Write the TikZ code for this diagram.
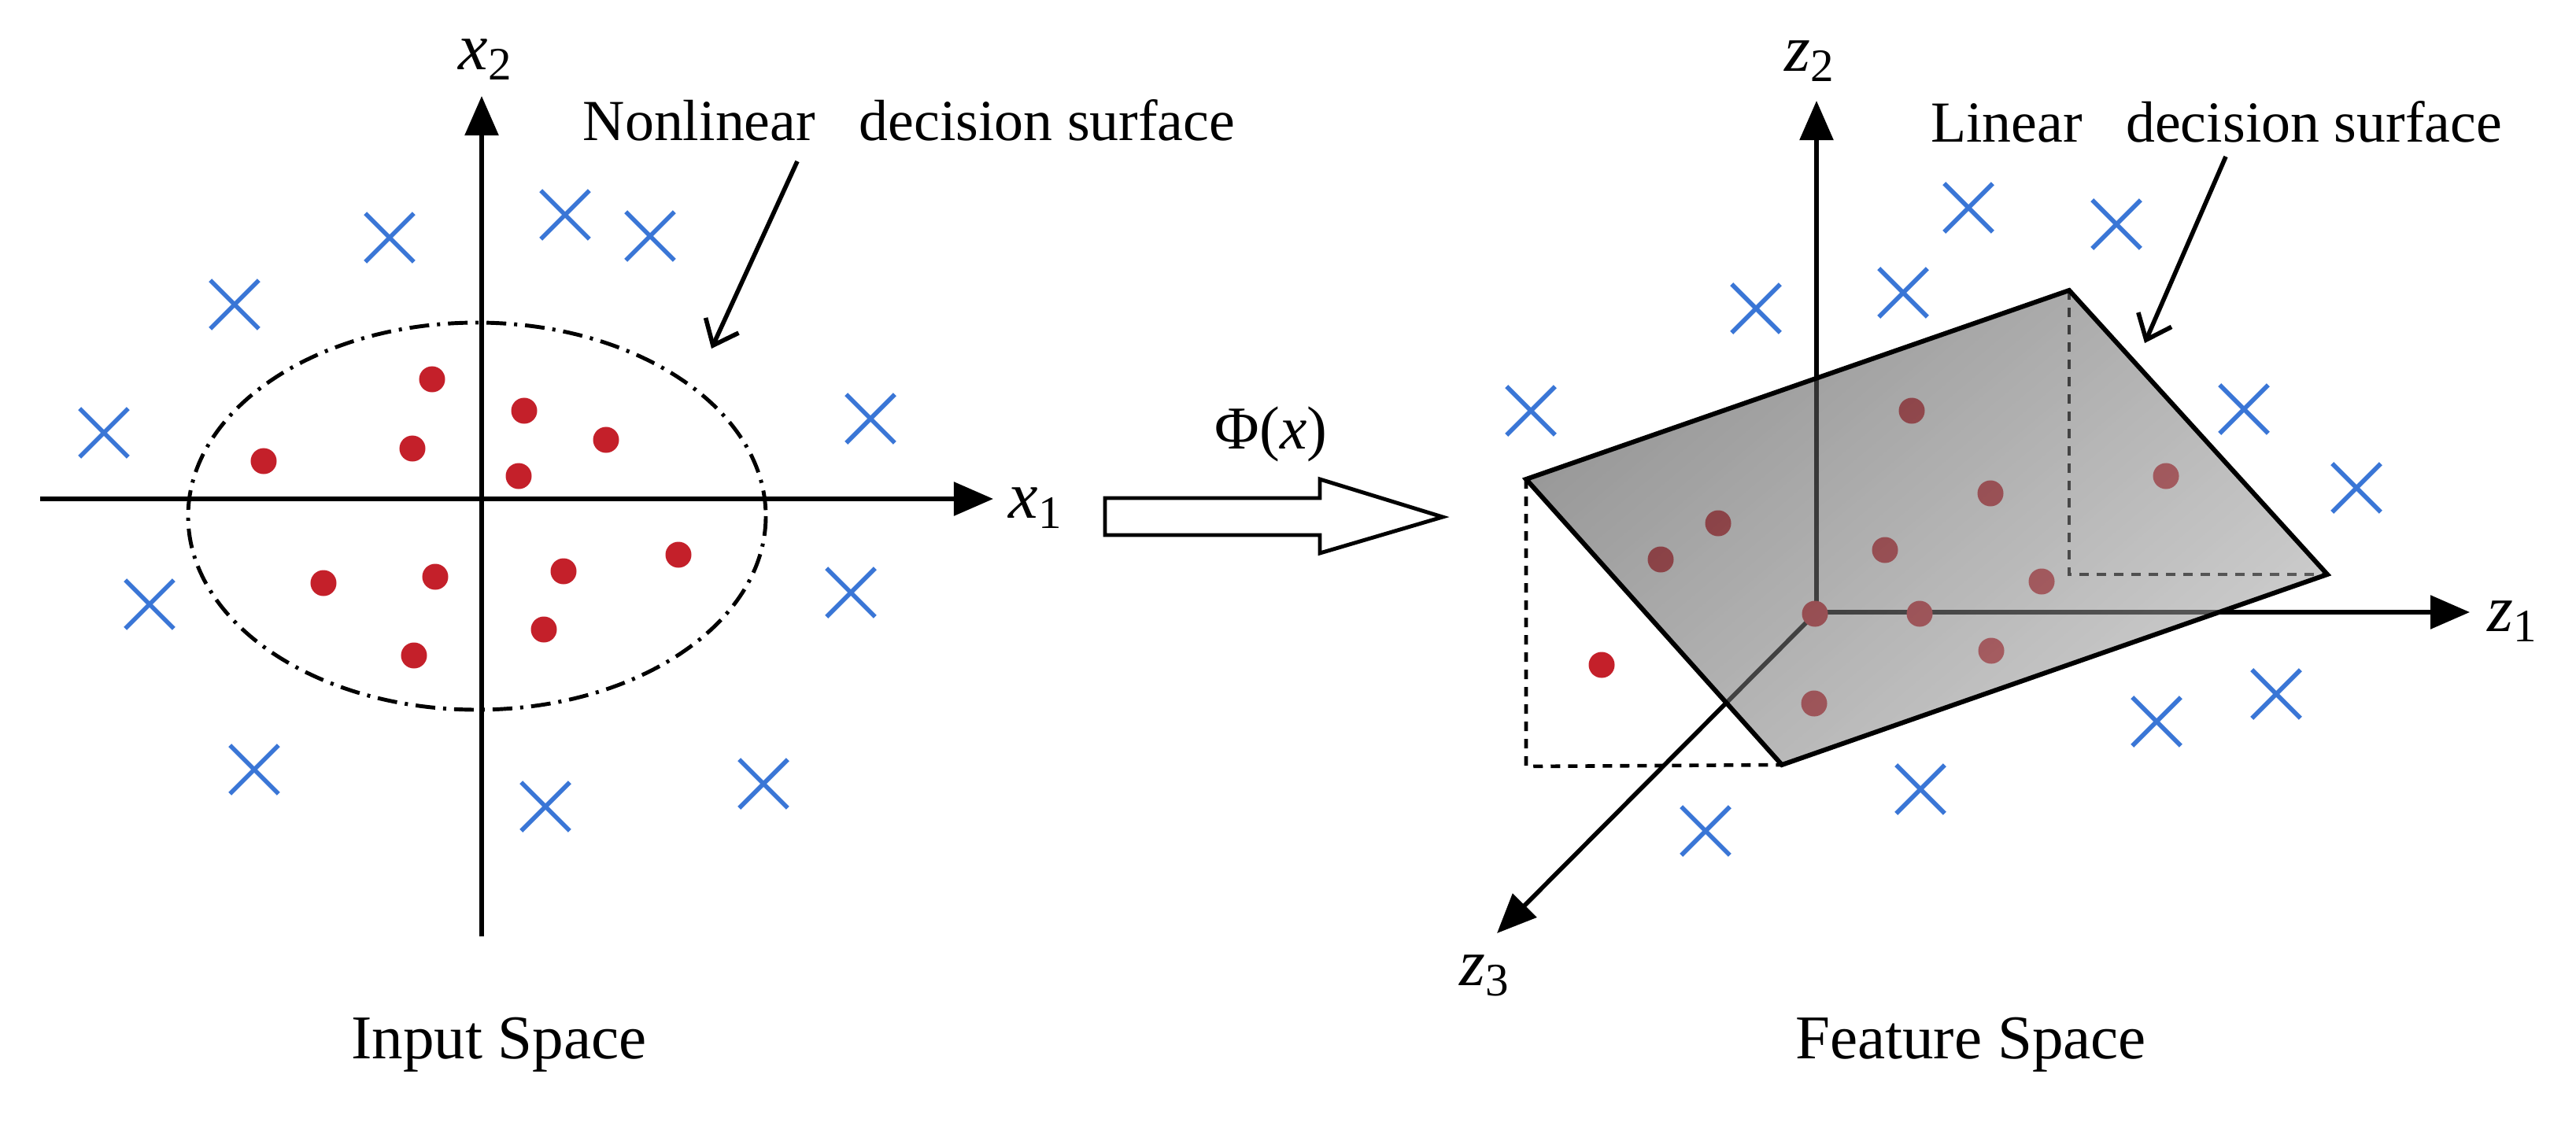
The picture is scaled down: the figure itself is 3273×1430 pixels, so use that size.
\documentclass[tikz,border=0pt]{standalone}
\usepackage{fontspec}
\setmainfont{Liberation Serif}
\usetikzlibrary{arrows.meta,shapes.misc}
\definecolor{ptred}{RGB}{196,32,42}
\definecolor{crossblue}{RGB}{58,118,214}
\definecolor{planedark}{RGB}{70,70,70}
\definecolor{planelight}{RGB}{165,165,165}
\begin{document}
\begin{tikzpicture}[x=0.01cm,y=-0.01cm,
  axisline/.style={line width=1.6pt,-{Triangle[length=0.5cm,width=0.42cm]}},
  pointer/.style={line width=1.6pt,-{Straight Barb[length=0.28cm,width=0.46cm]}},
  lbl/.style={font=\fontsize{21}{25}\selectfont, inner sep=0pt},
  titletext/.style={font=\fontsize{22.5}{27}\selectfont, inner sep=0pt},
  var/.style={font=\fontsize{24}{28}\selectfont, inner sep=0pt},
  dot/.style={circle,fill=ptred,minimum size=0.33cm,inner sep=0pt},
  xmark/.style={cross out,draw=crossblue,line width=1.6pt,minimum size=0.56cm,inner sep=0pt},
  dashln/.style={line width=1.3pt,dash pattern=on 0.12cm off 0.1cm},
]
\useasboundingbox (0,0) rectangle (3273,1430);

% ---------------- Input space ----------------
\coordinate (x1start) at (51,634);
\coordinate (x1end) at (1262,634);
\coordinate (x2start) at (612,1190);
\coordinate (x2end) at (612,122);
\draw[axisline] (x1start) -- (x1end);
\draw[axisline] (x2start) -- (x2end);
\node[var] (x1lab) at (1316,646) {\textit{x}\textsubscript{1}};
\node[var] (x2lab) at (617,76) {\textit{x}\textsubscript{2}};

\draw[line width=1.4pt,dash pattern=on 0.25cm off 0.1cm on 0.04cm off 0.1cm]
  (606,656) ellipse [x radius=367, y radius=246];

\foreach \p [count=\i] in {(549,482),(666,522),(524,570),(770,559),(335,586),(659,605),
  (862,705),(411,741),(553,733),(716,726),(691,800),(526,833)}
  \node[dot] (ld\i) at \p {};
\foreach \p [count=\i] in {(495,302),(718,273),(826,300),(298,387),(132,550),(1106,532),
  (190,768),(1081,753),(323,978),(693,1025),(970,996)}
  \node[xmark] (lx\i) at \p {};

\node[lbl] (nltext) at (1155,153) {Nonlinear\hspace{0.5em} decision surface};
\coordinate (nltail) at (1013,205);
\coordinate (nlhead) at (904,443);
\draw[pointer] (nltail) -- (nlhead);

\node[titletext] (inspace) at (634,1328) {Input Space};

% ---------------- mapping arrow ----------------
\node[lbl,font=\fontsize{22}{26}\selectfont] (phi) at (1615,552) {Φ(\textit{x})};
\coordinate (ha1) at (1404,633);
\coordinate (ha2) at (1677,633);
\coordinate (ha3) at (1677,609);
\coordinate (ha4) at (1833,657);
\coordinate (ha5) at (1677,703);
\coordinate (ha6) at (1677,680);
\coordinate (ha7) at (1404,680);
\draw[line width=1.4pt,line join=miter] (ha1) -- (ha2) -- (ha3) -- (ha4) -- (ha5) -- (ha6) -- (ha7) -- cycle;

% ---------------- Feature space ----------------
\coordinate (O) at (2308,778);
\coordinate (z1end) at (3138,778);
\coordinate (z2end) at (2308,128);
\coordinate (z3end) at (1902,1186);
\draw[axisline] (O) -- (z1end);
\draw[axisline] (O) -- (z2end);
\draw[axisline] (O) -- (z3end);
\node[var] (z1lab) at (3193,790) {\textit{z}\textsubscript{1}};
\node[var] (z2lab) at (2300,78) {\textit{z}\textsubscript{2}};
\node[var] (z3lab) at (1887,1240) {\textit{z}\textsubscript{3}};

\coordinate (P1) at (1939,609);
\coordinate (P2) at (2629,369);
\coordinate (P3) at (2957,730);
\coordinate (P4) at (2264,972);
\coordinate (Q1) at (1939,974);
\coordinate (Q2) at (2629,730);

% dashed projection lying behind the plane
\draw[dashln] (P2) -- (Q2) -- (P3);

% points lying behind / on the plane
\foreach \p [count=\i] in {(2429,522),(2529,627),(2752,605),(2183,665),(2110,711),(2395,699),
  (2594,739),(2306,780),(2439,780),(2530,827),(2305,894)}
  \node[dot] (rd\i) at \p {};

% semi-transparent plane
\shade[top color=planedark,bottom color=planelight,shading angle=40,fill opacity=0.56]
  (P1) -- (P2) -- (P3) -- (P4) -- cycle;
\draw[line width=1.7pt,line join=miter] (P1) -- (P2) -- (P3) -- (P4) -- cycle;
\draw[dashln] (P1) -- (Q1) -- (P4);

\node[dot] (rd12) at (2035,845) {};

\foreach \p [count=\i] in {(2501,264),(2689,285),(2231,392),(2418,372),(1945,522),(2851,520),
  (2994,620),(2892,882),(2740,917),(2440,1003),(2167,1056)}
  \node[xmark] (rx\i) at \p {};

\node[lbl] (lintext) at (2816,155) {Linear\hspace{0.5em} decision surface};
\coordinate (lintail) at (2828,199);
\coordinate (linhead) at (2725,436);
\draw[pointer] (lintail) -- (linhead);

\node[titletext] (fspace) at (2504,1328) {Feature Space};
\end{tikzpicture}
\end{document}
